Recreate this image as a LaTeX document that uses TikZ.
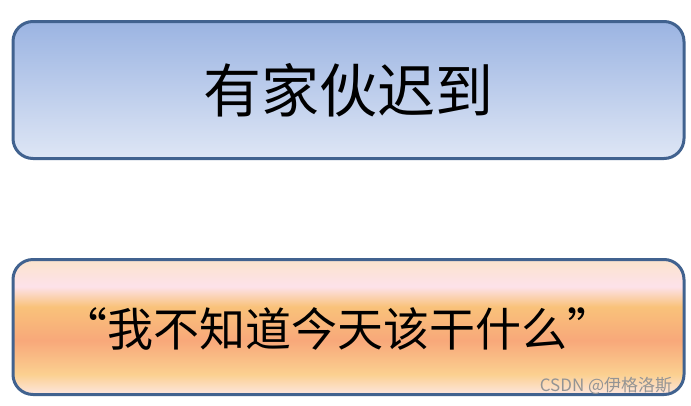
\documentclass[tikz,border=0pt]{standalone}
\usepackage{fontspec}
\newfontfamily\cjk{Noto Sans CJK SC}
\definecolor{edge}{HTML}{41628F}
\definecolor{btop}{HTML}{9BB4E2}
\definecolor{bbot}{HTML}{DEE6F5}
\definecolor{o1}{HTML}{FBE3CC}
\definecolor{o2}{HTML}{FDE2EA}
\definecolor{o3}{HTML}{F9C27A}
\definecolor{o4}{HTML}{F8A87A}
\definecolor{o5}{HTML}{FBD090}
\definecolor{o6}{HTML}{FDE6E0}
\pgfdeclareverticalshading{blueshade}{100bp}{color(0bp)=(bbot); color(25bp)=(bbot); color(75bp)=(btop); color(100bp)=(btop)}
\pgfdeclareverticalshading{orangeshade}{100bp}{color(0bp)=(o6); color(25bp)=(o6); color(32.5bp)=(o5); color(45bp)=(o4); color(57.5bp)=(o3); color(65bp)=(o2); color(75bp)=(o1); color(100bp)=(o1)}
\begin{document}
\begin{tikzpicture}[x=1pt,y=-1pt,
  box/.style={draw=edge, line width=3pt, rounded corners=20pt, inner sep=0pt, anchor=north west, text=black},
  mark text/.style={font=\cjk\fontsize{17}{19}\selectfont, text=black!42}]
\useasboundingbox (0,0) rectangle (691,405);
\node[box, shading=blueshade, minimum width=671pt, minimum height=137pt,
      font=\cjk\fontsize{58}{62}\selectfont] (top) at (11.5,20) {有家伙迟到};
\node[box, shading=orangeshade, minimum width=671pt, minimum height=135pt] (bottom) at (11.5,258) {};
\node[font=\cjk\fontsize{46}{50}\selectfont, inner sep=0pt, xshift=-11pt, yshift=-2pt] (quote) at (bottom.center) {“我不知道今天该干什么”};
\node[mark text, anchor=center] (wm) at (606,386) {CSDN @伊格洛斯};
\end{tikzpicture}
\end{document}
